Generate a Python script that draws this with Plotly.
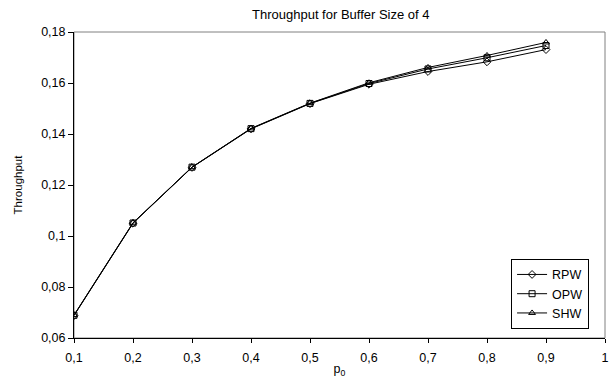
import plotly.graph_objects as go

# Offered load p0 and measured throughput for each window policy
p0 = [0.1, 0.2, 0.3, 0.4, 0.5, 0.6, 0.7, 0.8, 0.9]
rpw = [0.0688, 0.1050, 0.1269, 0.1420, 0.1519, 0.1595, 0.1645, 0.1683, 0.1731]
opw = [0.0689, 0.1051, 0.1270, 0.1421, 0.1520, 0.1598, 0.1655, 0.1699, 0.1747]
shw = [0.0690, 0.1052, 0.1270, 0.1422, 0.1521, 0.1601, 0.1661, 0.1708, 0.1759]

x_ticks = [0.1, 0.2, 0.3, 0.4, 0.5, 0.6, 0.7, 0.8, 0.9, 1.0]
x_tick_text = ["0,1", "0,2", "0,3", "0,4", "0,5", "0,6", "0,7", "0,8", "0,9", "1"]
y_ticks = [0.06, 0.08, 0.10, 0.12, 0.14, 0.16, 0.18]
y_tick_text = ["0,06", "0,08", "0,1", "0,12", "0,14", "0,16", "0,18"]

FONT = "Arial, Liberation Sans, sans-serif"

series = [
    ("RPW", rpw, "diamond-open"),
    ("OPW", opw, "square-open"),
    ("SHW", shw, "triangle-up-open"),
]

fig = go.Figure()
for name, vals, symbol in series:
    fig.add_trace(go.Scatter(
        x=p0, y=vals, name=name, mode="lines+markers",
        line=dict(color="black", width=1),
        marker=dict(symbol=symbol, size=6, color="black",
                    line=dict(color="black", width=1)),
    ))

# Light grey frame along top and right edges of the plotting area
fig.add_shape(type="rect", xref="paper", yref="paper", x0=0, y0=0, x1=1, y1=1,
              line=dict(color="#808080", width=1), layer="below")

fig.update_layout(
    width=614, height=379,
    margin=dict(l=74, r=5, t=32, b=37),
    paper_bgcolor="white", plot_bgcolor="white",
    font=dict(family=FONT, size=12.5, color="black"),
    title=dict(text="Throughput for Buffer Size of 4", x=0.555, xanchor="center",
               y=0.975, yanchor="top", font=dict(size=13, family=FONT)),
    showlegend=True,
    legend=dict(x=0.970, xanchor="right", y=0.03, yanchor="bottom",
                bordercolor="black", borderwidth=1, bgcolor="white",
                font=dict(size=12.5, family=FONT), tracegroupgap=0,
                itemwidth=30),
    xaxis=dict(range=[0.1, 1.0], tickvals=x_ticks, ticktext=x_tick_text,
               showgrid=False, zeroline=False, showline=True,
               linecolor="black", linewidth=1, ticks="outside", ticklen=4,
               tickcolor="black", ticklabelstandoff=4,
               title=dict(text="p<sub>0</sub>", standoff=0,
                          font=dict(size=12.5, family=FONT))),
    yaxis=dict(range=[0.06, 0.18], tickvals=y_ticks, ticktext=y_tick_text,
               showgrid=False, zeroline=False, showline=True,
               linecolor="black", linewidth=1, ticks="outside", ticklen=5,
               tickcolor="black",
               title=dict(text="Throughput", standoff=16,
                          font=dict(size=11.5, family=FONT))),
)

fig.write_html("out.html")
